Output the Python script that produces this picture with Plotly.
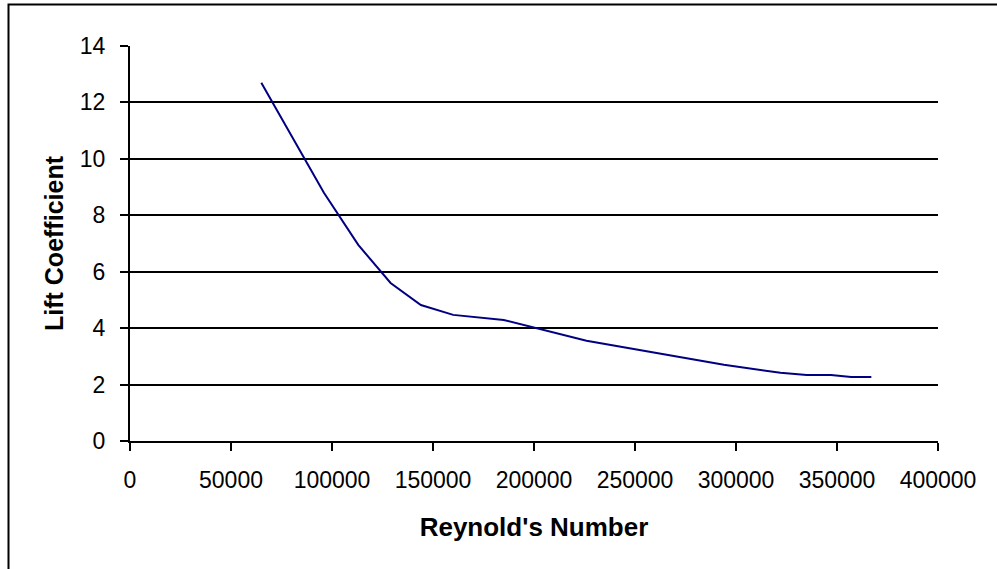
import plotly.graph_objects as go

reynolds = [65000, 96000, 113000, 129000, 144000, 160000, 185000, 226000,
            294000, 322000, 335000, 347000, 357000, 367000]
lift_coef = [12.7, 8.8, 6.95, 5.6, 4.82, 4.47, 4.29, 3.55,
             2.70, 2.42, 2.34, 2.34, 2.27, 2.27]

x_ticks = [0, 50000, 100000, 150000, 200000, 250000, 300000, 350000, 400000]
y_ticks = [0, 2, 4, 6, 8, 10, 12, 14]

W, H = 997, 569
L, R, T, B = 130, 59, 46, 128
pw, ph = W - L - R, H - T - B

fig = go.Figure()
fig.add_trace(go.Scatter(x=reynolds, y=lift_coef, mode="lines",
                         line=dict(color="#000080", width=2), showlegend=False))

fig.update_layout(
    width=W, height=H,
    margin=dict(l=L, r=R, t=T, b=B, pad=0),
    paper_bgcolor="white", plot_bgcolor="white",
    font=dict(family="Arial, Liberation Sans, sans-serif", color="black", size=23),
    xaxis=dict(range=[0, 400000], tickvals=x_ticks, ticktext=[str(v) for v in x_ticks],
               showgrid=False, zeroline=False, showline=True, linecolor="black", linewidth=2,
               ticks="outside", ticklen=8, tickwidth=2, tickcolor="black",
               ticklabelstandoff=9,
               title=dict(text="<b>Reynold's Number</b>", font=dict(size=26), standoff=26)),
    yaxis=dict(range=[0, 14], tickvals=y_ticks, showgrid=True, gridcolor="black", gridwidth=2,
               zeroline=False, showline=True, linecolor="black", linewidth=2,
               ticks="outside", ticklen=8, tickwidth=2, tickcolor="black",
               ticklabelstandoff=10,
               title=dict(text="<b>Lift Coefficient</b>", font=dict(size=25), standoff=9)),
)

fig.add_shape(type="rect", xref="paper", yref="paper",
              x0=(8.5 - L) / pw, x1=(W + 10 - L) / pw,
              y0=(H - B - (H + 10)) / ph, y1=(H - B - 4.5) / ph,
              line=dict(color="black", width=2), fillcolor="rgba(0,0,0,0)", layer="below")

fig.write_html("out.html", config={"displayModeBar": False},
               post_script="document.body.style.margin='0';document.body.style.overflow='hidden';")
